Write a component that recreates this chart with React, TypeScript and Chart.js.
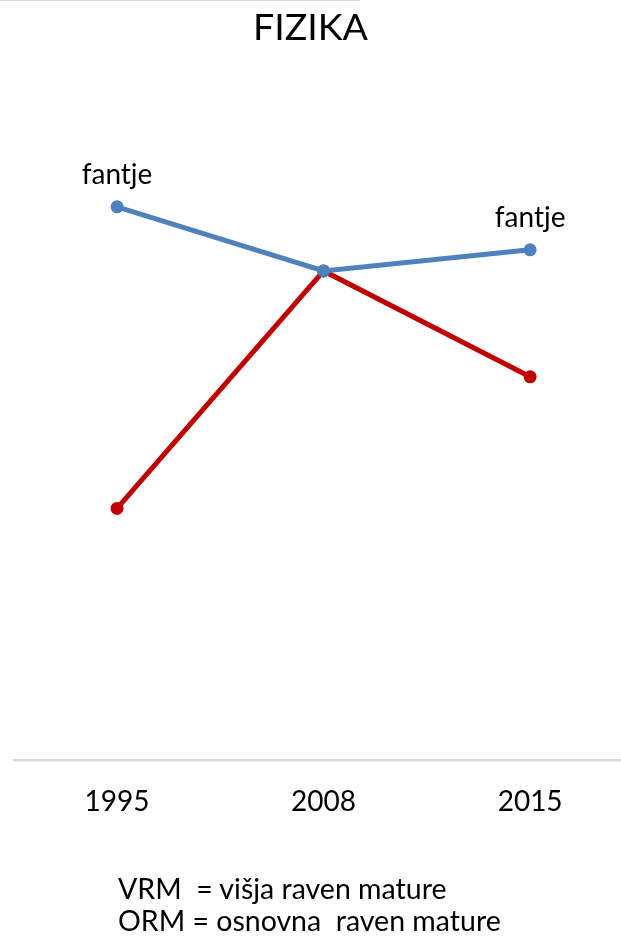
import React, { useEffect, useRef } from "react";
import { Chart, registerables } from "chart.js";

Chart.register(...registerables);

// Survey years shown along the x axis
const years = ["1995", "2008", "2015"];
// VRM share (blue line)
const vrmValues = [83.7, 74.0, 77.2];
// ORM share (red line)
const ormValues = [38.1, 74.0, 58.0];
// Point labels on the blue line (empty = no label)
const vrmLabels = ["fantje", "", "fantje"];
// Footnote lines under the chart
const notes = ["VRM  = višja raven mature", "ORM = osnovna  raven mature"];

const FONT = "Lato, 'Open Sans', sans-serif";

const pointLabelPlugin = {
  id: "pointLabels",
  afterDatasetsDraw(chart: any) {
    const meta = chart.getDatasetMeta(0);
    const ctx = chart.ctx;
    ctx.save();
    ctx.font = `28px ${FONT}`;
    ctx.fillStyle = "#000";
    ctx.textAlign = "center";
    ctx.textBaseline = "alphabetic";
    meta.data.forEach((pt: any, i: number) => {
      const txt = vrmLabels[i];
      if (txt) ctx.fillText(txt, pt.x, pt.y - 23);
    });
    ctx.restore();
  },
};

export default function App() {
  const canvasRef = useRef<HTMLCanvasElement | null>(null);

  useEffect(() => {
    document.body.style.margin = "0";
    const canvas = canvasRef.current;
    if (!canvas) return;
    const chart = new Chart(canvas, {
      type: "line",
      data: {
        datasets: [
          {
            label: "VRM",
            data: vrmValues.map((v, i) => ({ x: i, y: v })),
            borderColor: "#4f81bd",
            backgroundColor: "#4f81bd",
            borderWidth: 5,
            pointRadius: 6.5,
            pointHoverRadius: 6.5,
            pointBorderWidth: 0,
            tension: 0,
            order: 0,
          },
          {
            label: "ORM",
            data: ormValues.map((v, i) => ({ x: i, y: v })),
            borderColor: "#c00000",
            backgroundColor: "#c00000",
            borderWidth: 5,
            pointRadius: 6.5,
            pointHoverRadius: 6.5,
            pointBorderWidth: 0,
            tension: 0,
            order: 1,
          },
        ],
      },
      options: {
        animation: false,
        responsive: false,
        maintainAspectRatio: false,
        layout: { autoPadding: false, padding: { top: 5, bottom: 92, left: 0, right: 0 } },
        plugins: {
          legend: { display: false },
          tooltip: { enabled: false },
          title: {
            display: true,
            text: "FIZIKA",
            color: "#000",
            font: { family: FONT, size: 37.5, weight: "normal" },
            padding: { top: 0, bottom: 49 },
          },
        },
        scales: {
          x: {
            type: "linear",
            min: -0.499,
            max: 2.44,
            afterBuildTicks: (axis: any) => {
              axis.ticks = years.map((_, i) => ({ value: i }));
            },
            afterFit: (axis: any) => {
              axis.paddingLeft = 14;
              axis.paddingRight = 0;
            },
            ticks: {
              color: "#000",
              font: { family: FONT, size: 28 },
              padding: 25,
              maxRotation: 0,
              autoSkip: false,
              callback: (v: any) => years[v as number] ?? "",
            },
            grid: { display: false, drawTicks: false },
            border: { display: true, color: "#d9d9d9", width: 2.5 },
          },
          y: {
            display: false,
            min: 0,
            max: 100,
          },
        },
      },
      plugins: [pointLabelPlugin],
    });
    return () => chart.destroy();
  }, []);

  return (
    <div style={{ position: "relative", width: 621, height: 936, background: "#fff", overflow: "hidden" }}>
      <div style={{ position: "absolute", left: 0, top: 0, width: 360, height: 1, background: "#d9d9d9" }} />
      <canvas ref={canvasRef} width={621} height={936} style={{ display: "block", width: 621, height: 936 }} />
      <div
        style={{
          position: "absolute",
          left: 118,
          top: 872,
          fontFamily: FONT,
          fontSize: 28.5,
          lineHeight: "32px",
          color: "#000",
          whiteSpace: "pre",
        }}
      >
        {notes.map((n) => (
          <div key={n}>{n}</div>
        ))}
      </div>
    </div>
  );
}
